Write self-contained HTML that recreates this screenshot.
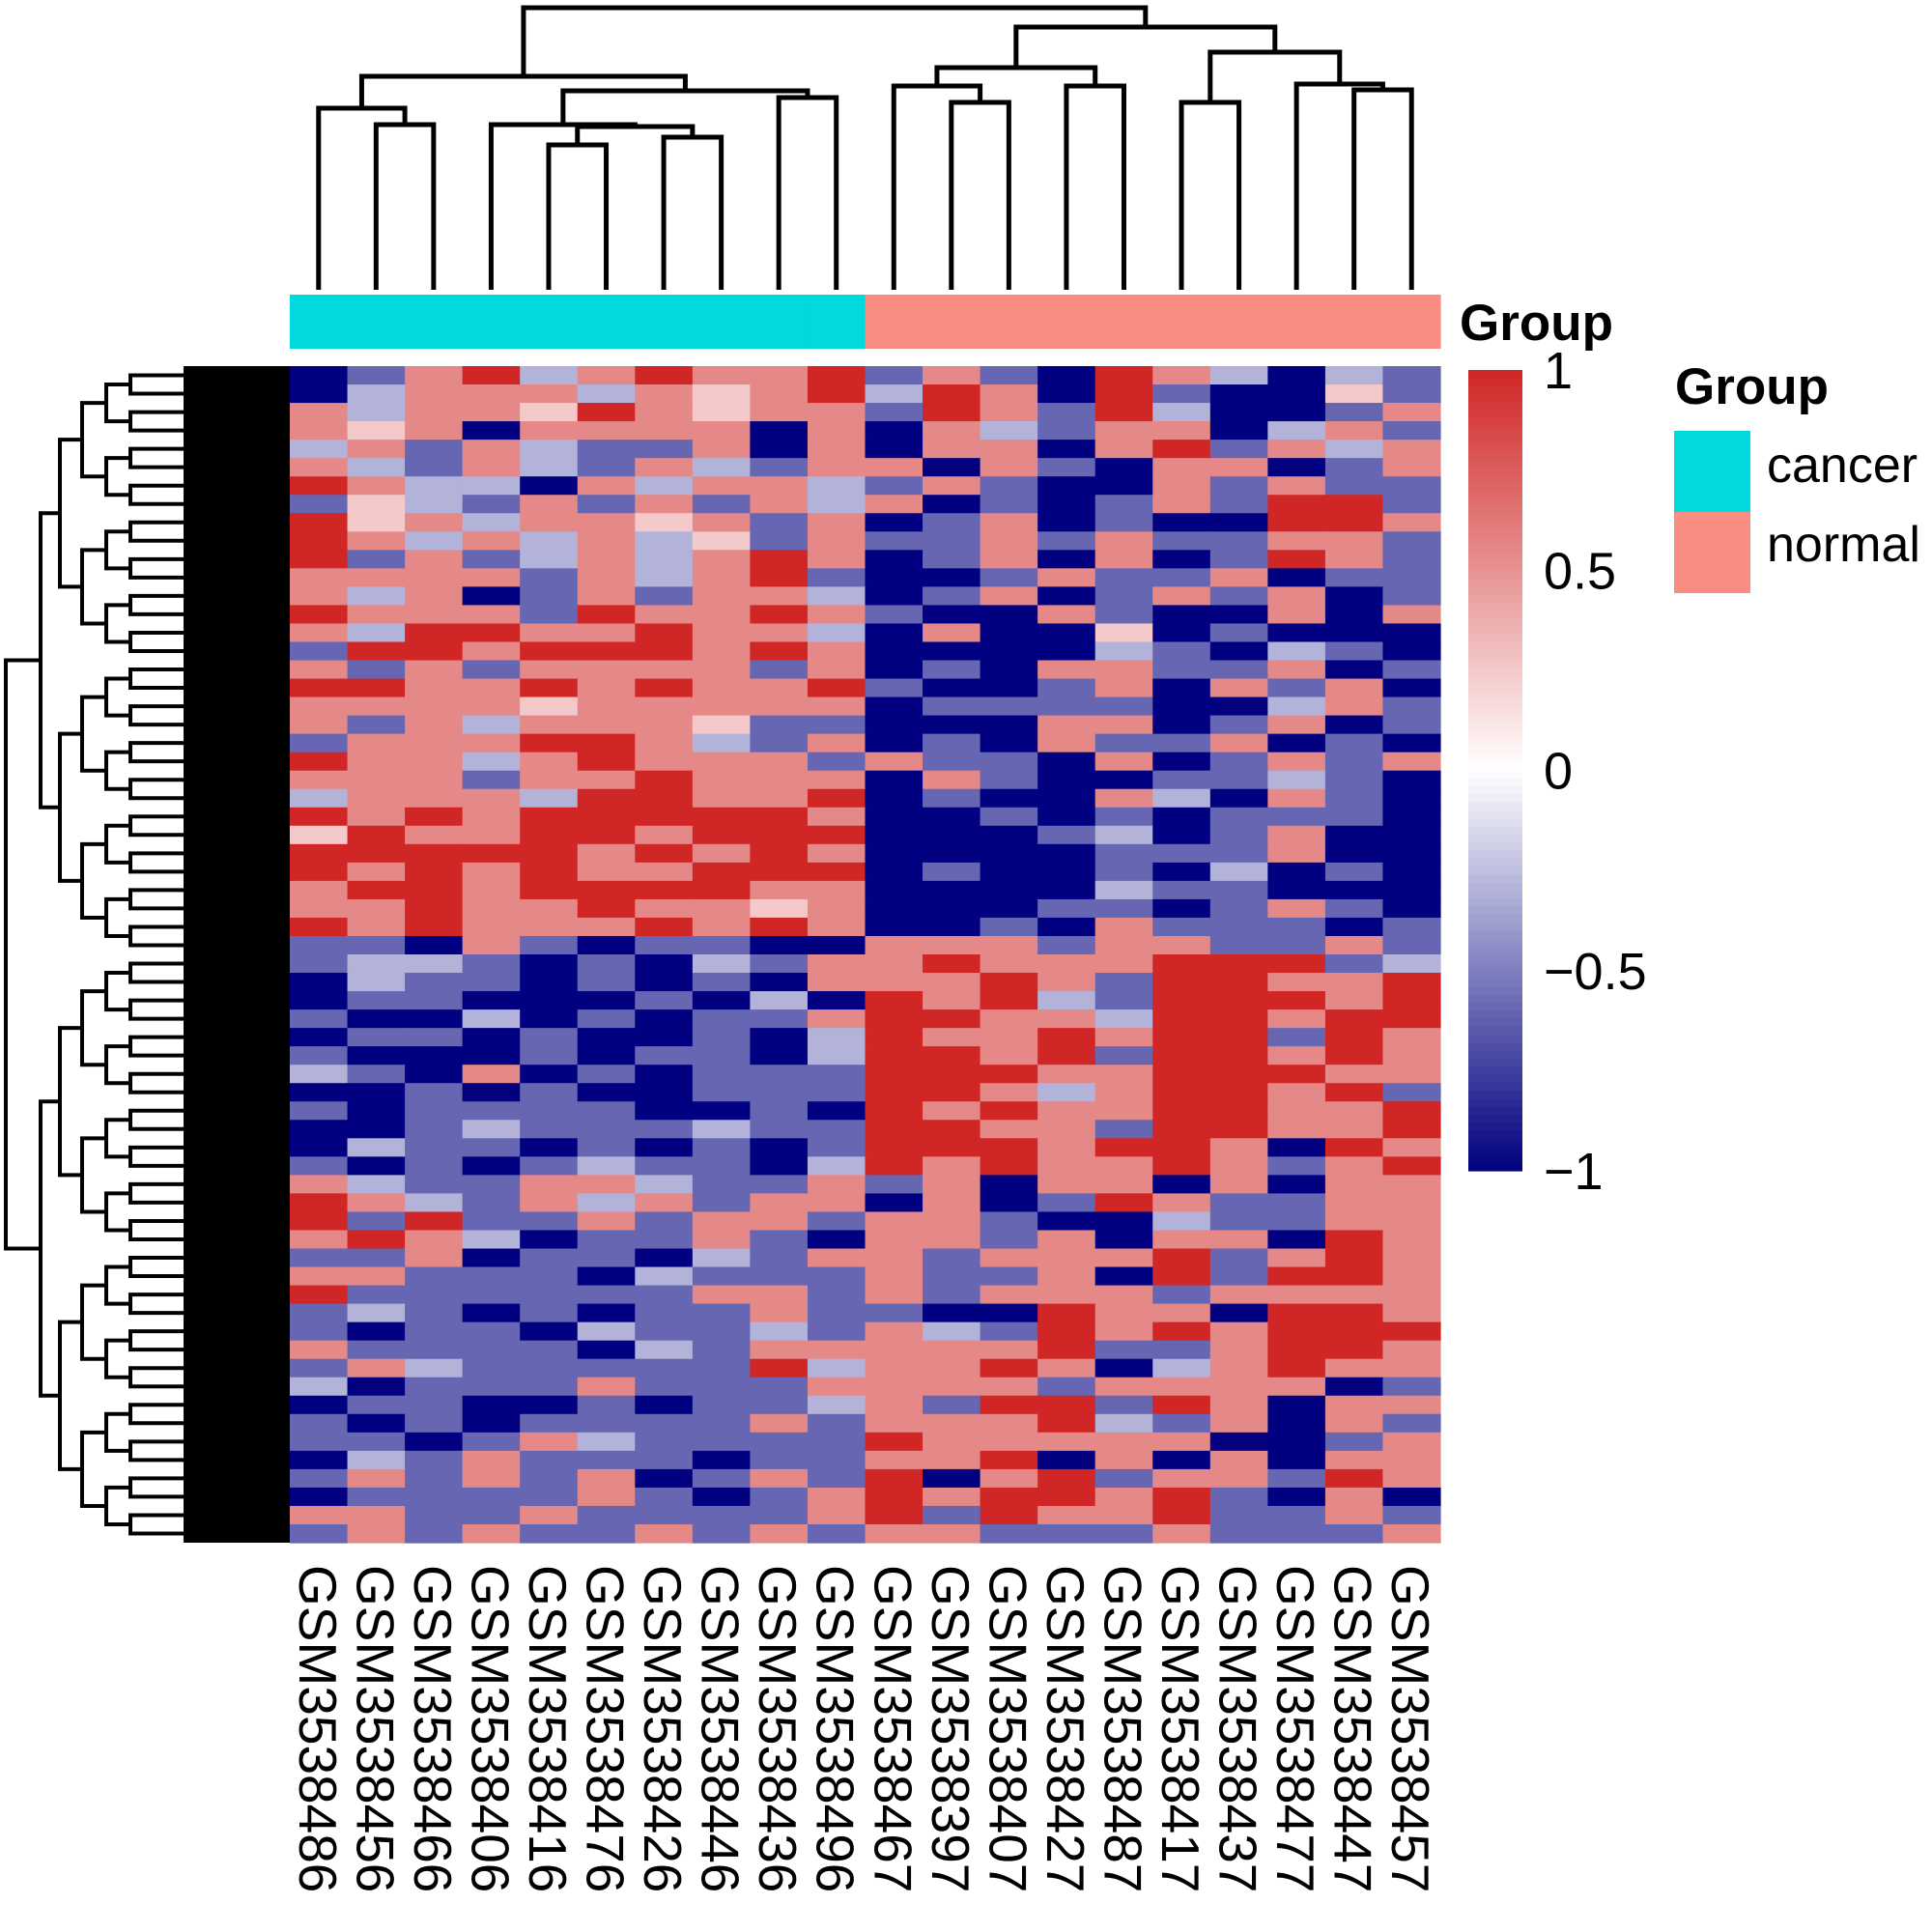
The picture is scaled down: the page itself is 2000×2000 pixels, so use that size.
<!DOCTYPE html>
<html><head><meta charset="utf-8"><style>
html,body{margin:0;padding:0;background:#fff;}
svg{display:block;font-family:"Liberation Sans",Arial,sans-serif;}
</style></head><body>
<svg id="chart" width="2000" height="2000" viewBox="0 0 2000 2000">
<g id="coldend"></g>
<g id="anno"></g>
<g id="rowdend"></g>
<g id="cells"></g>
<g id="collabels"></g>
<text x="1511" y="352" font-size="53" font-weight="bold">Group</text>
<g id="cbar"></g>
<g>
<text x="1734" y="418" font-size="53" font-weight="bold">Group</text>
<rect x="1733" y="446" width="79" height="84" fill="#00D9DE"/>
<rect x="1733" y="530" width="79" height="84" fill="#FA8D82"/>
<text x="1829" y="499" font-size="52">cancer</text>
<text x="1829" y="581" font-size="52">normal</text>
</g>
</svg>
<script>
const samples = ["GSM3538486","GSM3538456","GSM3538466","GSM3538406","GSM3538416","GSM3538476","GSM3538426","GSM3538446","GSM3538436","GSM3538496","GSM3538467","GSM3538397","GSM3538407","GSM3538427","GSM3538487","GSM3538417","GSM3538437","GSM3538477","GSM3538447","GSM3538457"];
const groups = ["cancer","cancer","cancer","cancer","cancer","cancer","cancer","cancer","cancer","cancer","normal","normal","normal","normal","normal","normal","normal","normal","normal","normal"];
// column dendrogram merges: [left node, right node, height in px from top]; leaves are 0..19, internal nodes 20+
const colMerges = [[1,2,129],[0,20,112],[4,5,150],[6,7,142],[22,23,131],[3,24,129],[8,9,101],[25,26,94],[21,27,79],[11,12,106],[10,29,89],[13,14,89],[30,31,70],[15,16,106],[18,19,93],[17,34,87],[33,35,54],[32,36,28],[28,37,8]];
// heatmap rows encoded per level: R=1 r=0.55 p=0.25 w=0 l=-0.3 b=-0.6 B=-1
const levelCodes = {R:1,r:0.55,p:0.25,w:0,l:-0.3,b:-0.6,B:-1};
const rows = [
"BbrRlrRrrRbrbBRrlBlb","BlrrrlrprRlRrBRbBBpb","rlrrpRrprrbRrbRlBBbr","rprBrrrrBrBrlbrrBlrb","lrbrlbbrBrBrrBrRbrlr",
"rlbrlbrlbrrBrbBrrBbr","RrllBrlrrlbrbBBrbrbb","bplbrbrbrlrBbBbrbRRb","RprlrrprbrBbrBbBBRRr","Rrlrlrlpbrbbrbrbbrrb",
"RbrblrlrRrBbrBrBbRrb","rrrrbrlrRbBBbrbbrBbb","rlrBbrbrrlBbrBbrbrBb","RrrrbRrrRrbBBrbBBrBr","rlRRrrRrrlBrBBpBbBBB",
"bRRrRRRrRrBBBBlbBlbB","rbrbrrrrbrBbBrrbbrBb","RRrrRrRrrRbBBbrBrbrB","rrrrprrrrrBbbbbBBlrb","rbrlrrrpbbBBBrrBbrBb",
"brrrRRrlbrBbBrbbrBbB","RrrlrRrrrbrbbBrBbrbr","rrrbrrRrrrBrbBBbblbB","lrrrlRRrrRBbBBrlBrbB","RrRrRRRRRrBBbBbBbbbB",
"pRrrRRrRRRBBBblBbrBB","RRRRRrRrRrBBBBbbbrBB","RrRrRrrRRRBbBBbBlBbB","rRRrRRRRrrBBBBlbbBBB","rrRrrRrrprBBBbbBbrbB",
"RrRrrrRrRrBBbBrbbbBb","bbBrbBbbBBrrrbrrbbrb","bllbBbBlbrrRrrrRRRbl","BlbbBbBbBrrrRrbRRrrR","BbbBBBbBlBRrRlbRRRrR",
"bBBlBbBbbrRRrrlRRrRR","BbbBbBBbBlRrrRrRRbRr","bBBBbBbbBlRRrRbRRrRr","lbBrBbBbbbRRRrrRRRrr","BBbBbBBbbbRRrlrRRrRb",
"bBbbbbBBbBRrRrrRRrrR","BBblbbblbbRRrrbRRrrR","BlbbBbBbBbRRRrRRrBRr","bBbBblbbBlRrRrrRrbrR","rlbbrrlbbrbrBrrBrBrr",
"RrlbrlrbrrBrBbRrbbrr","RbRbbrbrrbrrbBBlbbrr","rRrlBbbrbBrrbrBrrBRr","bbrBbbBlbrrbrrrRbrRr","rrbbbBlbbbrbbrBRbRRr",
"Rbbbbbbrrbrbrrrbrrrr","blbBbBbbrbbBBRrrBRRr","bBbbBlbblbrlbRrRrRRR","rbbbbBlbrrrrrRbbrRRr","brlbbbbbRlrrRrBlrRrr",
"lBbbbrbbbrrrrbrrrrBb","BbbBBbBbblrbRRbRrBrr","bBbBbbbbrbrrrRlbrBrb","bbBbrlbbbbRrrrrrBBbr","BlbrbbbBbbrrRBrBrBrr",
"brbrbrBbrbRBrRbrrbRr","BbbbbrbBbrRrRRrRbBrB","rrbbrbbbbrRbRrrRbbrb","brbrbbrbrbrrbbbrbbbr"];
const cbarTicks = [1,0.5,0,-0.5,-1];
const cbarLabels = ["1","0.5","0","\u22120.5","\u22121"];

const NS = "http://www.w3.org/2000/svg";
const X0 = 300, X1 = 1491, Y0 = 379, Y1 = 1597;
const nC = samples.length, nR = rows.length;
const cw = (X1 - X0) / nC, rh = (Y1 - Y0) / nR;
const xCol = i => X0 + cw * i;
const yRow = j => Y0 + rh * j;
function mk(tag, attrs, parent){const e=document.createElementNS(NS,tag);for(const k in attrs)e.setAttribute(k,attrs[k]);parent.appendChild(e);return e;}
function lerp(a,b,t){return Math.round(a+(b-a)*t);}
function color(v){
  v=Math.max(-1,Math.min(1,v));
  if(v>=0){return `rgb(${lerp(255,208,v)},${lerp(255,38,v)},${lerp(255,38,v)})`;}
  const t=-v;return `rgb(${lerp(255,0,t)},${lerp(255,0,t)},${lerp(255,128,t)})`;
}
const cells = document.getElementById('cells');
rows.forEach((row,j)=>{
  for(let i=0;i<nC;i++){
    const v = levelCodes[row[i]];
    const r = mk('rect',{x:xCol(i).toFixed(2),y:yRow(j).toFixed(2),width:(cw+0.6).toFixed(2),height:(rh+0.6).toFixed(2),fill:color(v)},cells);
    
    
  }
});
const anno = document.getElementById('anno');
groups.forEach((g,i)=>{
  const r = mk('rect',{x:xCol(i).toFixed(2),y:305,width:(cw+0.6).toFixed(2),height:56,fill:g==='cancer'?'#00D9DE':'#FA8D82'},anno);
  
  
});
const cl = document.getElementById('collabels');
samples.forEach((s,i)=>{
  const t = mk('text',{transform:`translate(${(xCol(i)+cw/2-20).toFixed(1)},1620) rotate(90)`,'font-size':55},cl);
  t.textContent = s;
  
  
});
const cd = document.getElementById('coldend');
const nodeX = [], nodeY = [];
for(let i=0;i<nC;i++){nodeX.push(xCol(i)+cw/2);nodeY.push(300);}
colMerges.forEach(m=>{
  const [a,b,h]=m;
  const p = mk('path',{d:`M${nodeX[a]},${nodeY[a]}V${h}H${nodeX[b]}V${nodeY[b]}`,fill:'none',stroke:'#000','stroke-width':5},cd);
  
  
  nodeX.push((nodeX[a]+nodeX[b])/2);nodeY.push(h);
});
const rd = document.getElementById('rowdend');
const blk = mk('rect',{x:190,y:Y0,width:110,height:Y1-Y0,fill:'#000'},rd);


function build(lo,hi,depth){
  if(hi-lo===1){return {y:yRow(lo)+rh/2,x:200};}
  const mid=Math.floor((lo+hi)/2);
  const A=build(lo,mid,depth+1),B=build(mid,hi,depth+1);
  const xs=[6,42,62,85,110,135,160];
  const x=xs[Math.min(depth,xs.length-1)];
  const p = mk('path',{d:`M${A.x},${A.y}H${x}V${B.y}H${B.x}`,fill:'none',stroke:'#000','stroke-width':4},rd);
  
  
  return {x:x,y:(A.y+B.y)/2};
}
build(0,nR,0);
const cb = document.getElementById('cbar');
const CB0=383, CB1=1212;
const cy = v => CB0 + (1-v)/2*(CB1-CB0);
for(let k=0;k<100;k++){
  const v0 = 1 - k*0.02;
  const r = mk('rect',{x:1520,y:cy(v0).toFixed(2),width:56,height:((CB1-CB0)/100+0.6).toFixed(2),fill:color(v0-0.01)},cb);
  
  
}
cbarTicks.forEach((v,k)=>{
  const t = mk('text',{x:1598,y:(cy(v)+19).toFixed(1),'font-size':54},cb);
  t.textContent = cbarLabels[k];
  
  
});
</script>
</body></html>
